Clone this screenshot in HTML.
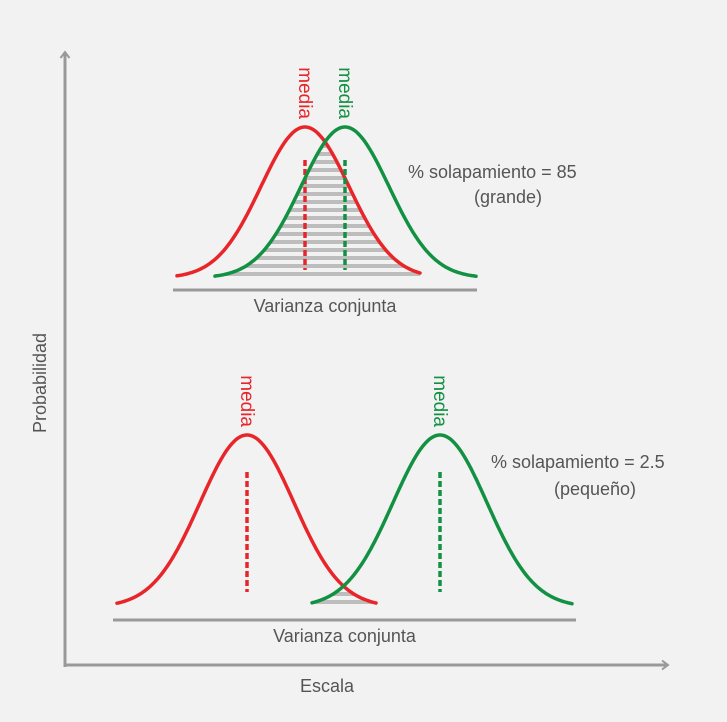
<!DOCTYPE html>
<html><head><meta charset="utf-8"><style>
html,body{margin:0;padding:0;background:#f2f2f2}
svg{display:block;font-family:"Liberation Sans",sans-serif}
</style></head><body>
<svg id="chart" width="727" height="722" viewBox="0 0 727 722">
<defs>
<marker id="arr" markerUnits="userSpaceOnUse" markerWidth="12" markerHeight="12" refX="8" refY="6" orient="auto"><path d="M2,1.5 L8,6 L2,10.5" fill="none" stroke="#999" stroke-width="2"/></marker>
<pattern id="stripes" width="10" height="8" patternUnits="userSpaceOnUse"><rect x="0" y="0" width="10" height="4" fill="#bdbdbd"/></pattern>
</defs>
<rect width="727" height="722" fill="#f2f2f2"/>
<line x1="65" y1="667" x2="65" y2="52" stroke="#999" stroke-width="3" marker-end="url(#arr)"/>
<line x1="65" y1="665" x2="668" y2="665" stroke="#999" stroke-width="3" marker-end="url(#arr)"/>
<text x="327" y="692" font-size="18" fill="#555" text-anchor="middle">Escala</text>
<text transform="translate(46,383) rotate(-90)" font-size="18" fill="#555" text-anchor="middle">Probabilidad</text>
<g id="panels"></g>
</svg>
<script>
// panel data
const panelNames = ['large-overlap', 'small-overlap'];
const meanRed = [305, 247];
const meanGreen = [345, 440];
const sigmas = [44, 47];
const overlapLabels = ['% solapamiento = 85', '% solapamiento = 2.5'];
const sizeLabels = ['(grande)', '(pequeño)'];
// layout (not data)
const layout = [
  {base:278, peak:127, rx:[177,420], gx:[215,476], axisY:290, ax:[173,477], lab:[408,178,508,203], dotTop:160, dotBot:270},
  {base:607, peak:435, rx:[117,376], gx:[312,572], axisY:620, ax:[113,576], lab:[491,468,595,495], dotTop:472, dotBot:592}
];
const NS='http://www.w3.org/2000/svg';
const root=document.getElementById('panels');
function mk(tag,attrs,parent){const e=document.createElementNS(NS,tag);for(const k in attrs)e.setAttribute(k,attrs[k]);(parent||root).appendChild(e);return e;}
function yOf(L,mu,s,x){return L.base-(L.base-L.peak)*Math.exp(-0.5*((x-mu)/s)**2);}
function curvePath(L,mu,s,x0,x1){let d='';for(let x=x0;x<=x1;x+=1)d+=(x===x0?'M':'L')+x+','+yOf(L,mu,s,x).toFixed(1);return d;}
panelNames.forEach((name,i)=>{
  const L=layout[i], s=sigmas[i], mr=meanRed[i], mg=meanGreen[i];
  const g=mk('g',{});
  
  
  let d='';const x0=Math.max(L.rx[0],L.gx[0]), x1=Math.min(L.rx[1],L.gx[1]);
  for(let x=x0;x<=x1;x++){const y=Math.min(L.base,Math.max(yOf(L,mr,s,x),yOf(L,mg,s,x)));d+=(x===x0?'M':'L')+x+','+y.toFixed(1);}
  d+='L'+x1+','+L.base+'L'+x0+','+L.base+'Z';
  const ov=mk('path',{d:d,fill:'url(#stripes)'},g);
  
  
  const ax=mk('line',{x1:L.ax[0],x2:L.ax[1],y1:L.axisY,y2:L.axisY,stroke:'#999','stroke-width':3},g);
  
  
  [[mr,'#e8262a',L.rx,'red'],[mg,'#139143',L.gx,'green']].forEach(([mu,col,xr,nm])=>{
    const c=mk('path',{d:curvePath(L,mu,s,xr[0],xr[1]),fill:'none',stroke:col,'stroke-width':3.5,'stroke-linecap':'round'},g);
    
    
    const m=mk('line',{x1:mu,x2:mu,y1:L.dotTop,y2:L.dotBot,stroke:col,'stroke-width':3.5,'stroke-dasharray':'6 3'},g);
    
    
    const t=mk('text',{transform:'translate('+(mu-6)+','+(L.peak-8)+') rotate(90)','font-size':19,fill:col,'text-anchor':'end'},g);
    t.textContent='media';
    
    
  });
  const t1=mk('text',{x:L.lab[0],y:L.lab[1],'font-size':18,fill:'#555'},g);
  t1.textContent=overlapLabels[i];
  
  
  const t2=mk('text',{x:L.lab[2],y:L.lab[3],'font-size':18,fill:'#555','text-anchor':'middle'},g);
  t2.textContent=sizeLabels[i];
  
  
  const t3=mk('text',{x:(L.ax[0]+L.ax[1])/2,y:L.axisY+22,'font-size':18,fill:'#555','text-anchor':'middle'},g);
  t3.textContent='Varianza conjunta';
  
  
});
</script>
</body></html>
